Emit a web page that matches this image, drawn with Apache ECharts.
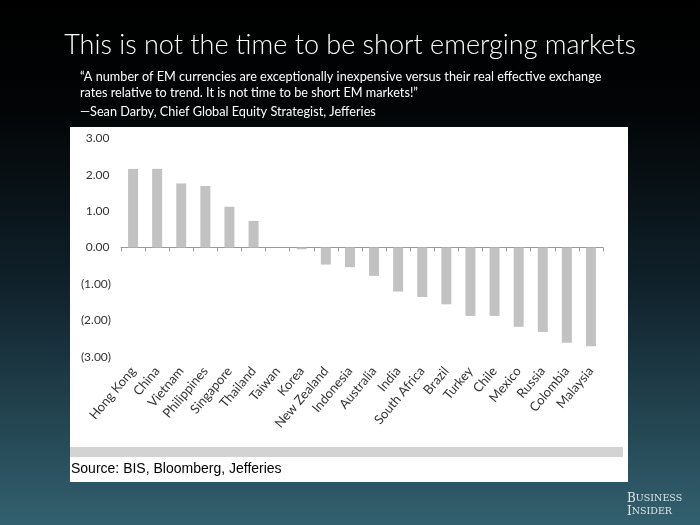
<!DOCTYPE html>
<html>
<head>
<meta charset="utf-8">
<script src="https://cdn.jsdelivr.net/npm/echarts@6/dist/echarts.min.js"></script>
<style>html,body{margin:0;padding:0;background:#000;}#c{width:700px;height:525px;}</style>
</head>
<body>
<div id="c"></div>
<script>
const categories = ['Hong Kong','China','Vietnam','Philippines','Singapore','Thailand','Taiwan','Korea','New Zealand','Indonesia','Australia','India','South Africa','Brazil','Turkey','Chile','Mexico','Russia','Colombia','Malaysia'];
const values = [2.16, 2.16, 1.76, 1.69, 1.12, 0.73, 0.0, -0.05, -0.47, -0.54, -0.78, -1.21, -1.36, -1.56, -1.88, -1.88, -2.18, -2.32, -2.62, -2.71];
const yTicks = { min: -3, max: 3, interval: 1 };
const titleText = 'This is not the time to be short emerging markets';
const quoteLines = ['\u201cA number of EM currencies are exceptionally inexpensive versus their real effective exchange', 'rates relative to trend. It is not time to be short EM markets!\u201d'];
const attribution = '\u2014Sean Darby, Chief Global Equity Strategist, Jefferies';
const sourceText = 'Source: BIS, Bloomberg, Jefferies';

const chart = echarts.init(document.getElementById('c'));
function fmt(v) {
  const s = Math.abs(v).toFixed(2);
  return v < 0 ? '(' + s + ')' : s + '\u2009';
}
chart.setOption({
  animation: false,
  graphic: [
    { type: 'rect', z: -10, shape: { x: 0, y: 0, width: 700, height: 525 },
      style: { fill: { type: 'linear', x: 0, y: 0, x2: 0, y2: 1, colorStops: [
        { offset: 0, color: '#000000' }, { offset: 0.2, color: '#020405' }, { offset: 0.55, color: '#10222c' }, { offset: 1, color: '#33606f' }] } } },
    { type: 'rect', z: -5, shape: { x: 70, y: 127, width: 558, height: 355 }, style: { fill: '#ffffff' } },
    { type: 'rect', z: -4, shape: { x: 70, y: 447, width: 553, height: 10 }, style: { fill: '#d3d3d3' } },
    { type: 'text', z: 5, style: { text: titleText, x: 350, y: 45, textAlign: 'center', textVerticalAlign: 'middle', fill: '#ffffff', font: '300 27px Lato' } },
    { type: 'text', z: 5, style: { text: quoteLines[0], x: 80, y: 77, textVerticalAlign: 'middle', fill: '#ffffff', font: '12.7px Lato' } },
    { type: 'text', z: 5, style: { text: quoteLines[1], x: 80, y: 93, textVerticalAlign: 'middle', fill: '#ffffff', font: '12.7px Lato' } },
    { type: 'text', z: 5, style: { text: attribution, x: 80, y: 112, textVerticalAlign: 'middle', fill: '#ffffff', font: '12.7px Lato' } },
    { type: 'text', z: 5, style: { text: sourceText, x: 71, y: 469, textVerticalAlign: 'middle', fill: '#000000', font: '14px "Liberation Sans"' } },
    { type: 'text', z: 5, style: { text: '{b|B}{s|USINESS}\n{b|I}{s|NSIDER}', x: 627, y: 505, textVerticalAlign: 'middle', fill: '#dde4e8',
      rich: { b: { fontSize: 12, fontFamily: 'DejaVu Serif', fill: '#dde4e8', lineHeight: 13 }, s: { fontSize: 9.5, fontFamily: 'DejaVu Serif', fill: '#dde4e8', lineHeight: 13 } } } }
  ],
  grid: { left: 121, right: 97, top: 138.3, bottom: 168.3 },
  xAxis: [
    { type: 'category', data: categories, position: 'bottom',
      axisLine: { onZero: true, lineStyle: { color: '#9a9a9a', width: 1 } },
      axisTick: { show: true, interval: 0, length: 4, lineStyle: { color: '#9a9a9a' } },
      axisLabel: { show: false } },
    { type: 'category', data: categories, position: 'bottom',
      axisLine: { show: false, onZero: false }, axisTick: { show: false },
      axisLabel: { rotate: 50, margin: 12, interval: 0, color: '#333333', fontSize: 13, fontFamily: 'Lato' } }
  ],
  yAxis: { type: 'value', min: yTicks.min, max: yTicks.max, interval: yTicks.interval,
    splitLine: { show: false }, axisLine: { show: false }, axisTick: { show: false },
    axisLabel: { formatter: fmt, color: '#333333', fontSize: 12, fontFamily: 'Lato', margin: 10 } },
  series: [{ type: 'bar', data: values, xAxisIndex: 0, barWidth: 10, itemStyle: { color: '#c2c2c2' } }]
});
</script>
</body>
</html>
